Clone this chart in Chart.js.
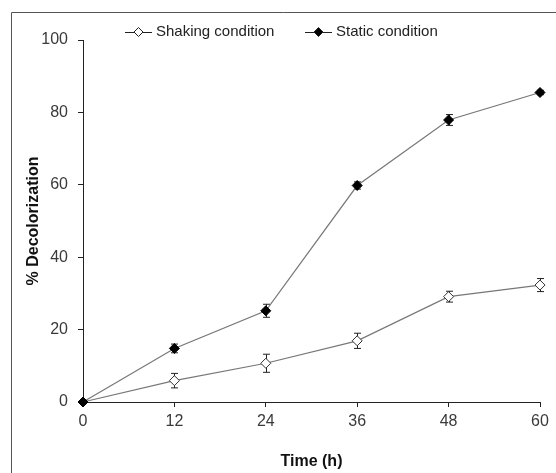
<!DOCTYPE html>
<html>
<head>
<meta charset="utf-8">
<script src="https://cdn.jsdelivr.net/npm/chart.js@4/dist/chart.umd.min.js"></script>
<style>
  html, body { margin: 0; padding: 0; background: #fff; }
  #wrap { width: 556px; height: 473px; }
</style>
</head>
<body>
<div id="wrap"><canvas id="decolorChart" width="556" height="473"></canvas></div>
<script>
  // Data
  const timeHours = [0, 12, 24, 36, 48, 60];
  const shakingValues = [0, 5.9, 10.7, 16.9, 29.1, 32.3];
  const shakingErrors = [0, 2.0, 2.5, 2.1, 1.5, 1.8];
  const staticValues = [0, 14.8, 25.2, 59.8, 77.9, 85.5];
  const staticErrors = [0, 1.2, 1.8, 1.0, 1.5, 0.6];
  const yTicks = [0, 20, 40, 60, 80, 100];
  const xTicks = [0, 12, 24, 36, 48, 60];

  const toPoints = (vals) => timeHours.map((t, i) => ({ x: t, y: vals[i] }));

  const ctx = document.getElementById('decolorChart').getContext('2d');

  // Error bars drawn through the chart scales
  const errorBars = {
      id: 'errorBars',
      beforeDatasetsDraw(chart) {
          const c = chart.ctx;
          const xs = chart.scales.x, ys = chart.scales.y;
          c.save();
          c.strokeStyle = '#222';
          c.lineWidth = 1;
          chart.data.datasets.forEach((ds) => {
              ds.data.forEach((p, i) => {
                  const err = ds.errors[i];
                  if (!err) return;
                  const px = Math.round(xs.getPixelForValue(p.x)) + 0.5;
                  const top = ys.getPixelForValue(p.y + err);
                  const bot = ys.getPixelForValue(p.y - err);
                  c.beginPath();
                  c.moveTo(px, top); c.lineTo(px, bot);
                  c.moveTo(px - 3.5, top); c.lineTo(px + 3.5, top);
                  c.moveTo(px - 3.5, bot); c.lineTo(px + 3.5, bot);
                  c.stroke();
              });
          });
          c.restore();
      }
  };

  // Frame lines and a legend with line + diamond keys
  const frameAndLegend = {
      id: 'frameAndLegend',
      beforeDraw(chart) {
          const c = chart.ctx;
          c.save();
          c.fillStyle = '#fff';
          c.fillRect(0, 0, chart.width, chart.height);
          c.strokeStyle = '#555';
          c.lineWidth = 1;
          c.beginPath();
          c.moveTo(11.5, chart.height); c.lineTo(11.5, 12.5); c.lineTo(chart.width, 12.5);
          c.stroke();
          c.restore();
      },
      afterDraw(chart) {
          const c = chart.ctx;
          const keys = [
              { ds: chart.data.datasets[0], x: 125 },
              { ds: chart.data.datasets[1], x: 305 }
          ];
          const y = 32;
          c.save();
          keys.forEach((k) => {
              c.strokeStyle = '#222';
              c.lineWidth = 1;
              c.beginPath();
              c.moveTo(k.x, y + 0.5); c.lineTo(k.x + 27, y + 0.5);
              c.stroke();
              const cx = k.x + 13.5, r = 4.5;
              c.beginPath();
              c.moveTo(cx, y - r); c.lineTo(cx + r, y); c.lineTo(cx, y + r); c.lineTo(cx - r, y);
              c.closePath();
              c.fillStyle = k.ds.pointBackgroundColor;
              c.fill();
              c.stroke();
              c.fillStyle = '#222';
              c.font = '15px "Liberation Sans", Arial, sans-serif';
              c.textBaseline = 'middle';
              c.fillText(k.ds.label, k.x + 31, y);
          });
          c.restore();
      }
  };

  const tickFont = { family: '"Liberation Sans", Arial, sans-serif', size: 16 };
  const titleFont = { family: '"Liberation Sans", Arial, sans-serif', size: 16, weight: 'bold' };

  new Chart(ctx, {
      type: 'line',
      data: {
          datasets: [{
              label: 'Shaking condition',
              data: toPoints(shakingValues),
              errors: shakingErrors,
              borderColor: '#777',
              borderWidth: 1.2,
              pointStyle: 'rectRot',
              pointRadius: 5,
              pointBackgroundColor: '#fff',
              pointBorderColor: '#333',
              pointBorderWidth: 1,
              tension: 0,
              clip: false,
              order: 1
          }, {
              label: 'Static condition',
              data: toPoints(staticValues),
              errors: staticErrors,
              borderColor: '#777',
              borderWidth: 1.2,
              pointStyle: 'rectRot',
              pointRadius: 5,
              pointBackgroundColor: '#000',
              pointBorderColor: '#000',
              pointBorderWidth: 1,
              tension: 0,
              clip: false,
              order: 0
          }]
      },
      options: {
          responsive: false,
          animation: false,
          layout: { padding: { top: 40, left: 0, right: 16, bottom: 0 } },
          plugins: {
              legend: { display: false },
              tooltip: { enabled: false }
          },
          scales: {
              x: {
                  type: 'linear',
                  min: 0,
                  max: 60,
                  afterFit: (scale) => { scale.height = 71; },
                  afterBuildTicks: (scale) => { scale.ticks = xTicks.map(v => ({ value: v })); },
                  ticks: { color: '#3a3a3a', font: tickFont, padding: 5, maxRotation: 0 },
                  grid: { display: true, drawOnChartArea: false, drawTicks: true, tickLength: 5, color: '#222' },
                  border: { display: true, color: '#222', width: 1 },
                  title: { display: true, text: 'Time (h)', color: '#111', font: titleFont, padding: { top: 0, bottom: 2 } }
              },
              y: {
                  min: 0,
                  max: 100,
                  afterFit: (scale) => { scale.width = 83; },
                  afterBuildTicks: (scale) => { scale.ticks = yTicks.map(v => ({ value: v })); },
                  ticks: { color: '#3a3a3a', font: tickFont, padding: 10 },
                  grid: { display: true, drawOnChartArea: false, drawTicks: true, tickLength: 5, color: '#222' },
                  border: { display: true, color: '#222', width: 1 },
                  title: { display: true, text: '% Decolorization', color: '#111', font: titleFont, padding: { top: 24, bottom: 0 } }
              }
          }
      },
      plugins: [frameAndLegend, errorBars]
  });
</script>
</body>
</html>
